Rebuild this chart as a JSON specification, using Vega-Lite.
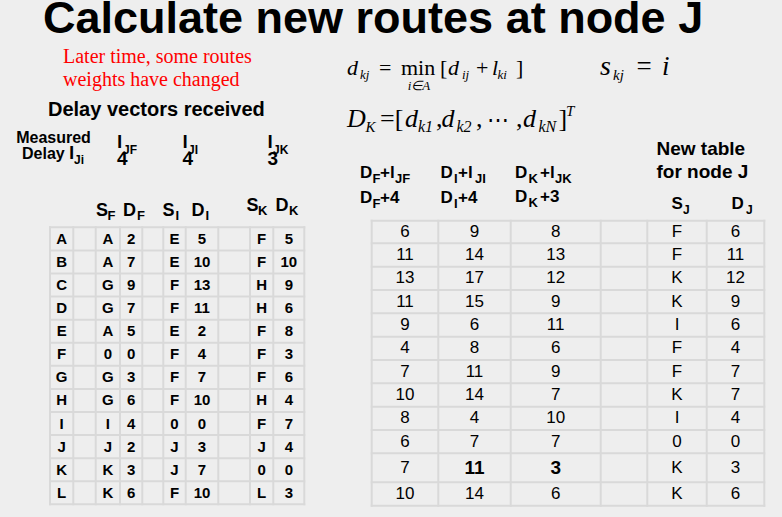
{
  "$schema": "https://vega.github.io/schema/vega-lite/v6.json",
  "width": 782,
  "height": 517,
  "autosize": {"type": "none"},
  "padding": 0,
  "background": "#eeeeee",
  "config": {
    "view": {"stroke": null},
    "axis": {"disable": true},
    "text": {"font": "Liberation Sans", "fill": "#000000", "align": "left", "baseline": "alphabetic"},
    "rule": {"stroke": "#d9d9d9", "strokeWidth": 2, "strokeCap": "square"}
  },
  "datasets": {
    "routes": [
      {"dest": "A", "SF": "A", "DF": 2, "SI": "E", "DI": 5, "SK": "F", "DK": 5, "viaF": 6, "viaI": 9, "viaK": 8, "SJ": "F", "DJ": 6},
      {"dest": "B", "SF": "A", "DF": 7, "SI": "E", "DI": 10, "SK": "F", "DK": 10, "viaF": 11, "viaI": 14, "viaK": 13, "SJ": "F", "DJ": 11},
      {"dest": "C", "SF": "G", "DF": 9, "SI": "F", "DI": 13, "SK": "H", "DK": 9, "viaF": 13, "viaI": 17, "viaK": 12, "SJ": "K", "DJ": 12},
      {"dest": "D", "SF": "G", "DF": 7, "SI": "F", "DI": 11, "SK": "H", "DK": 6, "viaF": 11, "viaI": 15, "viaK": 9, "SJ": "K", "DJ": 9},
      {"dest": "E", "SF": "A", "DF": 5, "SI": "E", "DI": 2, "SK": "F", "DK": 8, "viaF": 9, "viaI": 6, "viaK": 11, "SJ": "I", "DJ": 6},
      {"dest": "F", "SF": "0", "DF": 0, "SI": "F", "DI": 4, "SK": "F", "DK": 3, "viaF": 4, "viaI": 8, "viaK": 6, "SJ": "F", "DJ": 4},
      {"dest": "G", "SF": "G", "DF": 3, "SI": "F", "DI": 7, "SK": "F", "DK": 6, "viaF": 7, "viaI": 11, "viaK": 9, "SJ": "F", "DJ": 7},
      {"dest": "H", "SF": "G", "DF": 6, "SI": "F", "DI": 10, "SK": "H", "DK": 4, "viaF": 10, "viaI": 14, "viaK": 7, "SJ": "K", "DJ": 7},
      {"dest": "I", "SF": "I", "DF": 4, "SI": "0", "DI": 0, "SK": "F", "DK": 7, "viaF": 8, "viaI": 4, "viaK": 10, "SJ": "I", "DJ": 4},
      {"dest": "J", "SF": "J", "DF": 2, "SI": "J", "DI": 3, "SK": "J", "DK": 4, "viaF": 6, "viaI": 7, "viaK": 7, "SJ": "0", "DJ": 0},
      {"dest": "K", "SF": "K", "DF": 3, "SI": "J", "DI": 7, "SK": "0", "DK": 0, "viaF": 7, "viaI": 11, "viaK": 3, "SJ": "K", "DJ": 3},
      {"dest": "L", "SF": "K", "DF": 6, "SI": "F", "DI": 10, "SK": "L", "DK": 3, "viaF": 10, "viaI": 14, "viaK": 6, "SJ": "K", "DJ": 6}
    ]
  },
  "layer": [
    {
      "layer": [
        {
          "data": {"values": [{"e": -0.5}, {"e": 0.5}, {"e": 1.5}, {"e": 2.5}, {"e": 3.5}, {"e": 4.5}, {"e": 5.5}, {"e": 6.5}, {"e": 7.5}, {"e": 8.5}, {"e": 9.5}]},
          "mark": "rule",
          "encoding": {
            "x": {"field": "e", "type": "quantitative", "scale": {"domain": [-0.5, 0.5, 1.5, 2.5, 3.5, 4.5, 5.5, 6.5, 7.5, 8.5, 9.5], "range": [50, 73.3, 95.7, 120, 142.3, 163.3, 185.7, 218.3, 250, 273.3, 304.3], "zero": false, "nice": false}},
            "y": {"datum": 0.5, "scale": {"domain": [0.5, 12.5], "range": [227.3, 504.3], "zero": false, "nice": false}},
            "y2": {"datum": 12.5}
          }
        },
        {
          "data": {"values": [{"h": 0.5}, {"h": 1.5}, {"h": 2.5}, {"h": 3.5}, {"h": 4.5}, {"h": 5.5}, {"h": 6.5}, {"h": 7.5}, {"h": 8.5}, {"h": 9.5}, {"h": 10.5}, {"h": 11.5}, {"h": 12.5}]},
          "mark": "rule",
          "encoding": {
            "y": {"field": "h", "type": "quantitative", "scale": {"domain": [0.5, 12.5], "range": [227.3, 504.3], "zero": false, "nice": false}},
            "x": {"datum": -0.5, "scale": {"domain": [-0.5, 0.5, 1.5, 2.5, 3.5, 4.5, 5.5, 6.5, 7.5, 8.5, 9.5], "range": [50, 73.3, 95.7, 120, 142.3, 163.3, 185.7, 218.3, 250, 273.3, 304.3], "zero": false, "nice": false}},
            "x2": {"datum": 9.5}
          }
        },
        {
          "data": {"name": "routes"},
          "transform": [{"window": [{"op": "row_number", "as": "n"}]}],
          "encoding": {
            "y": {"field": "n", "type": "quantitative", "scale": {"domain": [0.5, 12.5], "range": [227.3, 504.3], "zero": false, "nice": false}}
          },
          "layer": [
            {"mark": {"type": "text", "fontWeight": "bold", "fontSize": 15, "align": "center", "baseline": "middle"},
             "encoding": {"x": {"datum": 0, "scale": {"domain": [-0.5, 0.5, 1.5, 2.5, 3.5, 4.5, 5.5, 6.5, 7.5, 8.5, 9.5], "range": [50, 73.3, 95.7, 120, 142.3, 163.3, 185.7, 218.3, 250, 273.3, 304.3], "zero": false, "nice": false}}, "text": {"field": "dest", "type": "nominal"}}},
            {"mark": {"type": "text", "fontWeight": "bold", "fontSize": 15, "align": "center", "baseline": "middle"},
             "encoding": {"x": {"datum": 2, "scale": {"domain": [-0.5, 0.5, 1.5, 2.5, 3.5, 4.5, 5.5, 6.5, 7.5, 8.5, 9.5], "range": [50, 73.3, 95.7, 120, 142.3, 163.3, 185.7, 218.3, 250, 273.3, 304.3], "zero": false, "nice": false}}, "text": {"field": "SF", "type": "nominal"}}},
            {"mark": {"type": "text", "fontWeight": "bold", "fontSize": 15, "align": "center", "baseline": "middle"},
             "encoding": {"x": {"datum": 3, "scale": {"domain": [-0.5, 0.5, 1.5, 2.5, 3.5, 4.5, 5.5, 6.5, 7.5, 8.5, 9.5], "range": [50, 73.3, 95.7, 120, 142.3, 163.3, 185.7, 218.3, 250, 273.3, 304.3], "zero": false, "nice": false}}, "text": {"field": "DF", "type": "nominal"}}},
            {"mark": {"type": "text", "fontWeight": "bold", "fontSize": 15, "align": "center", "baseline": "middle"},
             "encoding": {"x": {"datum": 5, "scale": {"domain": [-0.5, 0.5, 1.5, 2.5, 3.5, 4.5, 5.5, 6.5, 7.5, 8.5, 9.5], "range": [50, 73.3, 95.7, 120, 142.3, 163.3, 185.7, 218.3, 250, 273.3, 304.3], "zero": false, "nice": false}}, "text": {"field": "SI", "type": "nominal"}}},
            {"mark": {"type": "text", "fontWeight": "bold", "fontSize": 15, "align": "center", "baseline": "middle"},
             "encoding": {"x": {"datum": 6, "scale": {"domain": [-0.5, 0.5, 1.5, 2.5, 3.5, 4.5, 5.5, 6.5, 7.5, 8.5, 9.5], "range": [50, 73.3, 95.7, 120, 142.3, 163.3, 185.7, 218.3, 250, 273.3, 304.3], "zero": false, "nice": false}}, "text": {"field": "DI", "type": "nominal"}}},
            {"mark": {"type": "text", "fontWeight": "bold", "fontSize": 15, "align": "center", "baseline": "middle"},
             "encoding": {"x": {"datum": 8, "scale": {"domain": [-0.5, 0.5, 1.5, 2.5, 3.5, 4.5, 5.5, 6.5, 7.5, 8.5, 9.5], "range": [50, 73.3, 95.7, 120, 142.3, 163.3, 185.7, 218.3, 250, 273.3, 304.3], "zero": false, "nice": false}}, "text": {"field": "SK", "type": "nominal"}}},
            {"mark": {"type": "text", "fontWeight": "bold", "fontSize": 15, "align": "center", "baseline": "middle"},
             "encoding": {"x": {"datum": 9, "scale": {"domain": [-0.5, 0.5, 1.5, 2.5, 3.5, 4.5, 5.5, 6.5, 7.5, 8.5, 9.5], "range": [50, 73.3, 95.7, 120, 142.3, 163.3, 185.7, 218.3, 250, 273.3, 304.3], "zero": false, "nice": false}}, "text": {"field": "DK", "type": "nominal"}}}
          ]
        }
      ]
    },
    {
      "layer": [
        {
          "data": {"values": [{"e": -0.5}, {"e": 0.5}, {"e": 1.5}, {"e": 2.5}, {"e": 3.5}, {"e": 4.5}, {"e": 5.5}]},
          "mark": "rule",
          "encoding": {
            "x": {"field": "e", "type": "quantitative", "scale": {"domain": [-0.5, 0.5, 1.5, 2.5, 3.5, 4.5, 5.5], "range": [371.7, 438.3, 510.7, 600.7, 647.3, 706.7, 764.3], "zero": false, "nice": false}},
            "y": {"datum": 0.5, "scale": {"domain": [0.5, 1.5, 2.5, 3.5, 4.5, 5.5, 6.5, 7.5, 8.5, 9.5, 10.5, 11.5, 12.5], "range": [220.7, 243.3, 266.7, 290, 313.3, 336.7, 360, 383.3, 406.7, 430, 453.3, 482.3, 505.7], "zero": false, "nice": false}},
            "y2": {"datum": 12.5}
          }
        },
        {
          "data": {"values": [{"h": 0.5}, {"h": 1.5}, {"h": 2.5}, {"h": 3.5}, {"h": 4.5}, {"h": 5.5}, {"h": 6.5}, {"h": 7.5}, {"h": 8.5}, {"h": 9.5}, {"h": 10.5}, {"h": 11.5}, {"h": 12.5}]},
          "mark": "rule",
          "encoding": {
            "y": {"field": "h", "type": "quantitative", "scale": {"domain": [0.5, 1.5, 2.5, 3.5, 4.5, 5.5, 6.5, 7.5, 8.5, 9.5, 10.5, 11.5, 12.5], "range": [220.7, 243.3, 266.7, 290, 313.3, 336.7, 360, 383.3, 406.7, 430, 453.3, 482.3, 505.7], "zero": false, "nice": false}},
            "x": {"datum": -0.5, "scale": {"domain": [-0.5, 0.5, 1.5, 2.5, 3.5, 4.5, 5.5], "range": [371.7, 438.3, 510.7, 600.7, 647.3, 706.7, 764.3], "zero": false, "nice": false}},
            "x2": {"datum": 5.5}
          }
        },
        {
          "data": {"name": "routes"},
          "transform": [{"window": [{"op": "row_number", "as": "n"}]}],
          "encoding": {
            "y": {"field": "n", "type": "quantitative", "scale": {"domain": [0.5, 1.5, 2.5, 3.5, 4.5, 5.5, 6.5, 7.5, 8.5, 9.5, 10.5, 11.5, 12.5], "range": [220.7, 243.3, 266.7, 290, 313.3, 336.7, 360, 383.3, 406.7, 430, 453.3, 482.3, 505.7], "zero": false, "nice": false}}
          },
          "layer": [
            {"mark": {"type": "text", "fontSize": 17, "align": "center", "baseline": "middle"},
             "encoding": {"x": {"datum": 0, "scale": {"domain": [-0.5, 0.5, 1.5, 2.5, 3.5, 4.5, 5.5], "range": [371.7, 438.3, 510.7, 600.7, 647.3, 706.7, 764.3], "zero": false, "nice": false}}, "text": {"field": "viaF", "type": "nominal"}}},
            {"transform": [{"filter": "datum.dest !== 'K'"}],
             "mark": {"type": "text", "fontSize": 17, "align": "center", "baseline": "middle"},
             "encoding": {"x": {"datum": 1, "scale": {"domain": [-0.5, 0.5, 1.5, 2.5, 3.5, 4.5, 5.5], "range": [371.7, 438.3, 510.7, 600.7, 647.3, 706.7, 764.3], "zero": false, "nice": false}}, "text": {"field": "viaI", "type": "nominal"}}},
            {"transform": [{"filter": "datum.dest === 'K'"}],
             "mark": {"type": "text", "fontSize": 19, "fontWeight": "bold", "align": "center", "baseline": "middle"},
             "encoding": {"x": {"datum": 1, "scale": {"domain": [-0.5, 0.5, 1.5, 2.5, 3.5, 4.5, 5.5], "range": [371.7, 438.3, 510.7, 600.7, 647.3, 706.7, 764.3], "zero": false, "nice": false}}, "text": {"field": "viaI", "type": "nominal"}}},
            {"transform": [{"filter": "datum.dest !== 'K'"}],
             "mark": {"type": "text", "fontSize": 17, "align": "center", "baseline": "middle"},
             "encoding": {"x": {"datum": 2, "scale": {"domain": [-0.5, 0.5, 1.5, 2.5, 3.5, 4.5, 5.5], "range": [371.7, 438.3, 510.7, 600.7, 647.3, 706.7, 764.3], "zero": false, "nice": false}}, "text": {"field": "viaK", "type": "nominal"}}},
            {"transform": [{"filter": "datum.dest === 'K'"}],
             "mark": {"type": "text", "fontSize": 19, "fontWeight": "bold", "align": "center", "baseline": "middle"},
             "encoding": {"x": {"datum": 2, "scale": {"domain": [-0.5, 0.5, 1.5, 2.5, 3.5, 4.5, 5.5], "range": [371.7, 438.3, 510.7, 600.7, 647.3, 706.7, 764.3], "zero": false, "nice": false}}, "text": {"field": "viaK", "type": "nominal"}}},
            {"mark": {"type": "text", "fontSize": 17, "align": "center", "baseline": "middle"},
             "encoding": {"x": {"datum": 4, "scale": {"domain": [-0.5, 0.5, 1.5, 2.5, 3.5, 4.5, 5.5], "range": [371.7, 438.3, 510.7, 600.7, 647.3, 706.7, 764.3], "zero": false, "nice": false}}, "text": {"field": "SJ", "type": "nominal"}}},
            {"mark": {"type": "text", "fontSize": 17, "align": "center", "baseline": "middle"},
             "encoding": {"x": {"datum": 5, "scale": {"domain": [-0.5, 0.5, 1.5, 2.5, 3.5, 4.5, 5.5], "range": [371.7, 438.3, 510.7, 600.7, 647.3, 706.7, 764.3], "zero": false, "nice": false}}, "text": {"field": "DJ", "type": "nominal"}}}
          ]
        }
      ]
    },
    {
      "data": {"values": [{}]},
      "layer": [
        {"mark": {"type": "text", "text": "Calculate new routes at node J", "fontSize": 45, "fontWeight": "bold"}, "encoding": {"x": {"datum": 4.3, "scale": {"domain": [0, 78.2], "range": [0, 782], "zero": false, "nice": false}}, "y": {"datum": 3.25, "scale": {"domain": [0, 51.7], "range": [0, 517], "zero": false, "nice": false}}}},
        {"mark": {"type": "text", "text": ["Later time, some routes", "weights have changed"], "font": "Liberation Serif", "fontSize": 20, "lineHeight": 23, "fill": "#ff0000"}, "encoding": {"x": {"datum": 6.3, "scale": {"domain": [0, 78.2], "range": [0, 782], "zero": false, "nice": false}}, "y": {"datum": 6.27, "scale": {"domain": [0, 51.7], "range": [0, 517], "zero": false, "nice": false}}}},
        {"mark": {"type": "text", "text": "Delay vectors received", "fontSize": 20, "fontWeight": "bold"}, "encoding": {"x": {"datum": 4.8, "scale": {"domain": [0, 78.2], "range": [0, 782], "zero": false, "nice": false}}, "y": {"datum": 11.6, "scale": {"domain": [0, 51.7], "range": [0, 517], "zero": false, "nice": false}}}},
        {"mark": {"type": "text", "text": "Measured", "fontSize": 16, "fontWeight": "bold", "align": "center"}, "encoding": {"x": {"datum": 5.35, "scale": {"domain": [0, 78.2], "range": [0, 782], "zero": false, "nice": false}}, "y": {"datum": 14.33, "scale": {"domain": [0, 51.7], "range": [0, 517], "zero": false, "nice": false}}}},
        {"mark": {"type": "text", "text": "Delay", "fontSize": 16, "fontWeight": "bold"}, "encoding": {"x": {"datum": 2.2, "scale": {"domain": [0, 78.2], "range": [0, 782], "zero": false, "nice": false}}, "y": {"datum": 15.93, "scale": {"domain": [0, 51.7], "range": [0, 517], "zero": false, "nice": false}}}},
        {"mark": {"type": "text", "text": "l", "fontSize": 19, "fontWeight": "bold"}, "encoding": {"x": {"datum": 6.9, "scale": {"domain": [0, 78.2], "range": [0, 782], "zero": false, "nice": false}}, "y": {"datum": 15.93, "scale": {"domain": [0, 51.7], "range": [0, 517], "zero": false, "nice": false}}}},
        {"mark": {"type": "text", "text": "Ji", "fontSize": 12, "fontWeight": "bold"}, "encoding": {"x": {"datum": 7.4, "scale": {"domain": [0, 78.2], "range": [0, 782], "zero": false, "nice": false}}, "y": {"datum": 16.4, "scale": {"domain": [0, 51.7], "range": [0, 517], "zero": false, "nice": false}}}},
        {"mark": {"type": "text", "text": ["l", "4"], "fontSize": 19, "fontWeight": "bold", "lineHeight": 17}, "encoding": {"x": {"datum": 11.7, "scale": {"domain": [0, 78.2], "range": [0, 782], "zero": false, "nice": false}}, "y": {"datum": 14.8, "scale": {"domain": [0, 51.7], "range": [0, 517], "zero": false, "nice": false}}}},
        {"mark": {"type": "text", "text": ["l", "4"], "fontSize": 19, "fontWeight": "bold", "lineHeight": 17}, "encoding": {"x": {"datum": 18.25, "scale": {"domain": [0, 78.2], "range": [0, 782], "zero": false, "nice": false}}, "y": {"datum": 14.8, "scale": {"domain": [0, 51.7], "range": [0, 517], "zero": false, "nice": false}}}},
        {"mark": {"type": "text", "text": ["l", "3"], "fontSize": 19, "fontWeight": "bold", "lineHeight": 17}, "encoding": {"x": {"datum": 26.75, "scale": {"domain": [0, 78.2], "range": [0, 782], "zero": false, "nice": false}}, "y": {"datum": 14.8, "scale": {"domain": [0, 51.7], "range": [0, 517], "zero": false, "nice": false}}}},
        {"mark": {"type": "text", "text": "JF", "fontSize": 12, "fontWeight": "bold"}, "encoding": {"x": {"datum": 12.3, "scale": {"domain": [0, 78.2], "range": [0, 782], "zero": false, "nice": false}}, "y": {"datum": 15.4, "scale": {"domain": [0, 51.7], "range": [0, 517], "zero": false, "nice": false}}}},
        {"mark": {"type": "text", "text": "JI", "fontSize": 12, "fontWeight": "bold"}, "encoding": {"x": {"datum": 18.8, "scale": {"domain": [0, 78.2], "range": [0, 782], "zero": false, "nice": false}}, "y": {"datum": 15.4, "scale": {"domain": [0, 51.7], "range": [0, 517], "zero": false, "nice": false}}}},
        {"mark": {"type": "text", "text": "JK", "fontSize": 12, "fontWeight": "bold"}, "encoding": {"x": {"datum": 27.3, "scale": {"domain": [0, 78.2], "range": [0, 782], "zero": false, "nice": false}}, "y": {"datum": 15.4, "scale": {"domain": [0, 51.7], "range": [0, 517], "zero": false, "nice": false}}}},
        {"mark": {"type": "text", "text": "S", "fontSize": 18, "fontWeight": "bold"}, "encoding": {"x": {"datum": 9.6, "scale": {"domain": [0, 78.2], "range": [0, 782], "zero": false, "nice": false}}, "y": {"datum": 21.6, "scale": {"domain": [0, 51.7], "range": [0, 517], "zero": false, "nice": false}}}},
        {"mark": {"type": "text", "text": "F", "fontSize": 13, "fontWeight": "bold"}, "encoding": {"x": {"datum": 10.75, "scale": {"domain": [0, 78.2], "range": [0, 782], "zero": false, "nice": false}}, "y": {"datum": 22.0, "scale": {"domain": [0, 51.7], "range": [0, 517], "zero": false, "nice": false}}}},
        {"mark": {"type": "text", "text": "D", "fontSize": 18, "fontWeight": "bold"}, "encoding": {"x": {"datum": 12.3, "scale": {"domain": [0, 78.2], "range": [0, 782], "zero": false, "nice": false}}, "y": {"datum": 21.6, "scale": {"domain": [0, 51.7], "range": [0, 517], "zero": false, "nice": false}}}},
        {"mark": {"type": "text", "text": "F", "fontSize": 13, "fontWeight": "bold"}, "encoding": {"x": {"datum": 13.7, "scale": {"domain": [0, 78.2], "range": [0, 782], "zero": false, "nice": false}}, "y": {"datum": 22.0, "scale": {"domain": [0, 51.7], "range": [0, 517], "zero": false, "nice": false}}}},
        {"mark": {"type": "text", "text": "S", "fontSize": 18, "fontWeight": "bold"}, "encoding": {"x": {"datum": 16.25, "scale": {"domain": [0, 78.2], "range": [0, 782], "zero": false, "nice": false}}, "y": {"datum": 21.6, "scale": {"domain": [0, 51.7], "range": [0, 517], "zero": false, "nice": false}}}},
        {"mark": {"type": "text", "text": "I", "fontSize": 13, "fontWeight": "bold"}, "encoding": {"x": {"datum": 17.55, "scale": {"domain": [0, 78.2], "range": [0, 782], "zero": false, "nice": false}}, "y": {"datum": 22.0, "scale": {"domain": [0, 51.7], "range": [0, 517], "zero": false, "nice": false}}}},
        {"mark": {"type": "text", "text": "D", "fontSize": 18, "fontWeight": "bold"}, "encoding": {"x": {"datum": 19.15, "scale": {"domain": [0, 78.2], "range": [0, 782], "zero": false, "nice": false}}, "y": {"datum": 21.6, "scale": {"domain": [0, 51.7], "range": [0, 517], "zero": false, "nice": false}}}},
        {"mark": {"type": "text", "text": "I", "fontSize": 13, "fontWeight": "bold"}, "encoding": {"x": {"datum": 20.55, "scale": {"domain": [0, 78.2], "range": [0, 782], "zero": false, "nice": false}}, "y": {"datum": 22.0, "scale": {"domain": [0, 51.7], "range": [0, 517], "zero": false, "nice": false}}}},
        {"mark": {"type": "text", "text": "S", "fontSize": 18, "fontWeight": "bold"}, "encoding": {"x": {"datum": 24.65, "scale": {"domain": [0, 78.2], "range": [0, 782], "zero": false, "nice": false}}, "y": {"datum": 21.1, "scale": {"domain": [0, 51.7], "range": [0, 517], "zero": false, "nice": false}}}},
        {"mark": {"type": "text", "text": "K", "fontSize": 13, "fontWeight": "bold"}, "encoding": {"x": {"datum": 25.8, "scale": {"domain": [0, 78.2], "range": [0, 782], "zero": false, "nice": false}}, "y": {"datum": 21.5, "scale": {"domain": [0, 51.7], "range": [0, 517], "zero": false, "nice": false}}}},
        {"mark": {"type": "text", "text": "D", "fontSize": 18, "fontWeight": "bold"}, "encoding": {"x": {"datum": 27.55, "scale": {"domain": [0, 78.2], "range": [0, 782], "zero": false, "nice": false}}, "y": {"datum": 21.1, "scale": {"domain": [0, 51.7], "range": [0, 517], "zero": false, "nice": false}}}},
        {"mark": {"type": "text", "text": "K", "fontSize": 13, "fontWeight": "bold"}, "encoding": {"x": {"datum": 28.9, "scale": {"domain": [0, 78.2], "range": [0, 782], "zero": false, "nice": false}}, "y": {"datum": 21.5, "scale": {"domain": [0, 51.7], "range": [0, 517], "zero": false, "nice": false}}}},
        {"mark": {"type": "text", "text": ["D", "D"], "fontSize": 17, "fontWeight": "bold", "lineHeight": 24.5}, "encoding": {"x": {"datum": 36.0, "scale": {"domain": [0, 78.2], "range": [0, 782], "zero": false, "nice": false}}, "y": {"datum": 17.8, "scale": {"domain": [0, 51.7], "range": [0, 517], "zero": false, "nice": false}}}},
        {"mark": {"type": "text", "text": ["F", "F"], "fontSize": 13, "fontWeight": "bold", "lineHeight": 24.5}, "encoding": {"x": {"datum": 37.25, "scale": {"domain": [0, 78.2], "range": [0, 782], "zero": false, "nice": false}}, "y": {"datum": 18.3, "scale": {"domain": [0, 51.7], "range": [0, 517], "zero": false, "nice": false}}}},
        {"mark": {"type": "text", "text": ["+l", "+4"], "fontSize": 17, "fontWeight": "bold", "lineHeight": 24.5}, "encoding": {"x": {"datum": 38.0, "scale": {"domain": [0, 78.2], "range": [0, 782], "zero": false, "nice": false}}, "y": {"datum": 17.8, "scale": {"domain": [0, 51.7], "range": [0, 517], "zero": false, "nice": false}}}},
        {"mark": {"type": "text", "text": "JF", "fontSize": 13, "fontWeight": "bold"}, "encoding": {"x": {"datum": 39.5, "scale": {"domain": [0, 78.2], "range": [0, 782], "zero": false, "nice": false}}, "y": {"datum": 18.3, "scale": {"domain": [0, 51.7], "range": [0, 517], "zero": false, "nice": false}}}},
        {"mark": {"type": "text", "text": ["D", "D"], "fontSize": 17, "fontWeight": "bold", "lineHeight": 24.5}, "encoding": {"x": {"datum": 44.05, "scale": {"domain": [0, 78.2], "range": [0, 782], "zero": false, "nice": false}}, "y": {"datum": 17.8, "scale": {"domain": [0, 51.7], "range": [0, 517], "zero": false, "nice": false}}}},
        {"mark": {"type": "text", "text": ["I", "I"], "fontSize": 13, "fontWeight": "bold", "lineHeight": 24.5}, "encoding": {"x": {"datum": 45.4, "scale": {"domain": [0, 78.2], "range": [0, 782], "zero": false, "nice": false}}, "y": {"datum": 18.3, "scale": {"domain": [0, 51.7], "range": [0, 517], "zero": false, "nice": false}}}},
        {"mark": {"type": "text", "text": ["+l", "+4"], "fontSize": 17, "fontWeight": "bold", "lineHeight": 24.5}, "encoding": {"x": {"datum": 45.8, "scale": {"domain": [0, 78.2], "range": [0, 782], "zero": false, "nice": false}}, "y": {"datum": 17.8, "scale": {"domain": [0, 51.7], "range": [0, 517], "zero": false, "nice": false}}}},
        {"mark": {"type": "text", "text": "JI", "fontSize": 13, "fontWeight": "bold"}, "encoding": {"x": {"datum": 47.5, "scale": {"domain": [0, 78.2], "range": [0, 782], "zero": false, "nice": false}}, "y": {"datum": 18.3, "scale": {"domain": [0, 51.7], "range": [0, 517], "zero": false, "nice": false}}}},
        {"mark": {"type": "text", "text": ["D", "D"], "fontSize": 17, "fontWeight": "bold", "lineHeight": 24.5}, "encoding": {"x": {"datum": 51.5, "scale": {"domain": [0, 78.2], "range": [0, 782], "zero": false, "nice": false}}, "y": {"datum": 17.75, "scale": {"domain": [0, 51.7], "range": [0, 517], "zero": false, "nice": false}}}},
        {"mark": {"type": "text", "text": ["K", "K"], "fontSize": 13, "fontWeight": "bold", "lineHeight": 24.5}, "encoding": {"x": {"datum": 52.85, "scale": {"domain": [0, 78.2], "range": [0, 782], "zero": false, "nice": false}}, "y": {"datum": 18.25, "scale": {"domain": [0, 51.7], "range": [0, 517], "zero": false, "nice": false}}}},
        {"mark": {"type": "text", "text": ["+l", "+3"], "fontSize": 17, "fontWeight": "bold", "lineHeight": 24.5}, "encoding": {"x": {"datum": 54.0, "scale": {"domain": [0, 78.2], "range": [0, 782], "zero": false, "nice": false}}, "y": {"datum": 17.75, "scale": {"domain": [0, 51.7], "range": [0, 517], "zero": false, "nice": false}}}},
        {"mark": {"type": "text", "text": "JK", "fontSize": 13, "fontWeight": "bold"}, "encoding": {"x": {"datum": 55.5, "scale": {"domain": [0, 78.2], "range": [0, 782], "zero": false, "nice": false}}, "y": {"datum": 18.25, "scale": {"domain": [0, 51.7], "range": [0, 517], "zero": false, "nice": false}}}},
        {"mark": {"type": "text", "text": ["New table", "for node J"], "fontSize": 19, "fontWeight": "bold", "lineHeight": 23.3}, "encoding": {"x": {"datum": 65.65, "scale": {"domain": [0, 78.2], "range": [0, 782], "zero": false, "nice": false}}, "y": {"datum": 15.5, "scale": {"domain": [0, 51.7], "range": [0, 517], "zero": false, "nice": false}}}},
        {"mark": {"type": "text", "text": "S", "fontSize": 17, "fontWeight": "bold"}, "encoding": {"x": {"datum": 67.15, "scale": {"domain": [0, 78.2], "range": [0, 782], "zero": false, "nice": false}}, "y": {"datum": 20.93, "scale": {"domain": [0, 51.7], "range": [0, 517], "zero": false, "nice": false}}}},
        {"mark": {"type": "text", "text": "J", "fontSize": 12, "fontWeight": "bold"}, "encoding": {"x": {"datum": 68.3, "scale": {"domain": [0, 78.2], "range": [0, 782], "zero": false, "nice": false}}, "y": {"datum": 21.35, "scale": {"domain": [0, 51.7], "range": [0, 517], "zero": false, "nice": false}}}},
        {"mark": {"type": "text", "text": "D", "fontSize": 17, "fontWeight": "bold"}, "encoding": {"x": {"datum": 73.15, "scale": {"domain": [0, 78.2], "range": [0, 782], "zero": false, "nice": false}}, "y": {"datum": 20.93, "scale": {"domain": [0, 51.7], "range": [0, 517], "zero": false, "nice": false}}}},
        {"mark": {"type": "text", "text": "J", "fontSize": 12, "fontWeight": "bold"}, "encoding": {"x": {"datum": 74.6, "scale": {"domain": [0, 78.2], "range": [0, 782], "zero": false, "nice": false}}, "y": {"datum": 21.35, "scale": {"domain": [0, 51.7], "range": [0, 517], "zero": false, "nice": false}}}},
        {"mark": {"type": "text", "text": "d", "font": "Liberation Serif", "fontStyle": "italic", "fontSize": 22}, "encoding": {"x": {"datum": 34.7, "scale": {"domain": [0, 78.2], "range": [0, 782], "zero": false, "nice": false}}, "y": {"datum": 7.5, "scale": {"domain": [0, 51.7], "range": [0, 517], "zero": false, "nice": false}}}},
        {"mark": {"type": "text", "text": "kj", "font": "Liberation Serif", "fontStyle": "italic", "fontSize": 13}, "encoding": {"x": {"datum": 36.0, "scale": {"domain": [0, 78.2], "range": [0, 782], "zero": false, "nice": false}}, "y": {"datum": 7.9, "scale": {"domain": [0, 51.7], "range": [0, 517], "zero": false, "nice": false}}}},
        {"mark": {"type": "text", "text": "=", "font": "Liberation Serif", "fontSize": 22}, "encoding": {"x": {"datum": 37.9, "scale": {"domain": [0, 78.2], "range": [0, 782], "zero": false, "nice": false}}, "y": {"datum": 7.5, "scale": {"domain": [0, 51.7], "range": [0, 517], "zero": false, "nice": false}}}},
        {"mark": {"type": "text", "text": "min", "font": "Liberation Serif", "fontSize": 22}, "encoding": {"x": {"datum": 40.1, "scale": {"domain": [0, 78.2], "range": [0, 782], "zero": false, "nice": false}}, "y": {"datum": 7.5, "scale": {"domain": [0, 51.7], "range": [0, 517], "zero": false, "nice": false}}}},
        {"mark": {"type": "text", "text": "i∈A", "font": "Liberation Serif", "fontStyle": "italic", "fontSize": 13, "align": "center"}, "encoding": {"x": {"datum": 41.9, "scale": {"domain": [0, 78.2], "range": [0, 782], "zero": false, "nice": false}}, "y": {"datum": 8.95, "scale": {"domain": [0, 51.7], "range": [0, 517], "zero": false, "nice": false}}}},
        {"mark": {"type": "text", "text": "[", "font": "Liberation Serif", "fontSize": 22}, "encoding": {"x": {"datum": 44.0, "scale": {"domain": [0, 78.2], "range": [0, 782], "zero": false, "nice": false}}, "y": {"datum": 7.5, "scale": {"domain": [0, 51.7], "range": [0, 517], "zero": false, "nice": false}}}},
        {"mark": {"type": "text", "text": "d", "font": "Liberation Serif", "fontStyle": "italic", "fontSize": 22}, "encoding": {"x": {"datum": 44.8, "scale": {"domain": [0, 78.2], "range": [0, 782], "zero": false, "nice": false}}, "y": {"datum": 7.5, "scale": {"domain": [0, 51.7], "range": [0, 517], "zero": false, "nice": false}}}},
        {"mark": {"type": "text", "text": "ij", "font": "Liberation Serif", "fontStyle": "italic", "fontSize": 13}, "encoding": {"x": {"datum": 46.2, "scale": {"domain": [0, 78.2], "range": [0, 782], "zero": false, "nice": false}}, "y": {"datum": 7.9, "scale": {"domain": [0, 51.7], "range": [0, 517], "zero": false, "nice": false}}}},
        {"mark": {"type": "text", "text": "+", "font": "Liberation Serif", "fontSize": 22}, "encoding": {"x": {"datum": 47.6, "scale": {"domain": [0, 78.2], "range": [0, 782], "zero": false, "nice": false}}, "y": {"datum": 7.5, "scale": {"domain": [0, 51.7], "range": [0, 517], "zero": false, "nice": false}}}},
        {"mark": {"type": "text", "text": "l", "font": "Liberation Serif", "fontStyle": "italic", "fontSize": 22}, "encoding": {"x": {"datum": 49.2, "scale": {"domain": [0, 78.2], "range": [0, 782], "zero": false, "nice": false}}, "y": {"datum": 7.5, "scale": {"domain": [0, 51.7], "range": [0, 517], "zero": false, "nice": false}}}},
        {"mark": {"type": "text", "text": "ki", "font": "Liberation Serif", "fontStyle": "italic", "fontSize": 13}, "encoding": {"x": {"datum": 49.75, "scale": {"domain": [0, 78.2], "range": [0, 782], "zero": false, "nice": false}}, "y": {"datum": 7.9, "scale": {"domain": [0, 51.7], "range": [0, 517], "zero": false, "nice": false}}}},
        {"mark": {"type": "text", "text": "]", "font": "Liberation Serif", "fontSize": 22}, "encoding": {"x": {"datum": 51.6, "scale": {"domain": [0, 78.2], "range": [0, 782], "zero": false, "nice": false}}, "y": {"datum": 7.5, "scale": {"domain": [0, 51.7], "range": [0, 517], "zero": false, "nice": false}}}},
        {"mark": {"type": "text", "text": "s", "font": "Liberation Serif", "fontStyle": "italic", "fontSize": 28}, "encoding": {"x": {"datum": 60.0, "scale": {"domain": [0, 78.2], "range": [0, 782], "zero": false, "nice": false}}, "y": {"datum": 7.5, "scale": {"domain": [0, 51.7], "range": [0, 517], "zero": false, "nice": false}}}},
        {"mark": {"type": "text", "text": "kj", "font": "Liberation Serif", "fontStyle": "italic", "fontSize": 15}, "encoding": {"x": {"datum": 61.3, "scale": {"domain": [0, 78.2], "range": [0, 782], "zero": false, "nice": false}}, "y": {"datum": 8.0, "scale": {"domain": [0, 51.7], "range": [0, 517], "zero": false, "nice": false}}}},
        {"mark": {"type": "text", "text": "=", "font": "Liberation Serif", "fontSize": 27}, "encoding": {"x": {"datum": 63.65, "scale": {"domain": [0, 78.2], "range": [0, 782], "zero": false, "nice": false}}, "y": {"datum": 7.5, "scale": {"domain": [0, 51.7], "range": [0, 517], "zero": false, "nice": false}}}},
        {"mark": {"type": "text", "text": "i", "font": "Liberation Serif", "fontStyle": "italic", "fontSize": 27}, "encoding": {"x": {"datum": 66.2, "scale": {"domain": [0, 78.2], "range": [0, 782], "zero": false, "nice": false}}, "y": {"datum": 7.5, "scale": {"domain": [0, 51.7], "range": [0, 517], "zero": false, "nice": false}}}},
        {"mark": {"type": "text", "text": "D", "font": "Liberation Serif", "fontStyle": "italic", "fontSize": 26}, "encoding": {"x": {"datum": 34.7, "scale": {"domain": [0, 78.2], "range": [0, 782], "zero": false, "nice": false}}, "y": {"datum": 12.65, "scale": {"domain": [0, 51.7], "range": [0, 517], "zero": false, "nice": false}}}},
        {"mark": {"type": "text", "text": "K", "font": "Liberation Serif", "fontStyle": "italic", "fontSize": 15}, "encoding": {"x": {"datum": 36.55, "scale": {"domain": [0, 78.2], "range": [0, 782], "zero": false, "nice": false}}, "y": {"datum": 13.15, "scale": {"domain": [0, 51.7], "range": [0, 517], "zero": false, "nice": false}}}},
        {"mark": {"type": "text", "text": "=[", "font": "Liberation Serif", "fontSize": 26}, "encoding": {"x": {"datum": 38.0, "scale": {"domain": [0, 78.2], "range": [0, 782], "zero": false, "nice": false}}, "y": {"datum": 12.65, "scale": {"domain": [0, 51.7], "range": [0, 517], "zero": false, "nice": false}}}},
        {"mark": {"type": "text", "text": "d", "font": "Liberation Serif", "fontStyle": "italic", "fontSize": 26}, "encoding": {"x": {"datum": 40.5, "scale": {"domain": [0, 78.2], "range": [0, 782], "zero": false, "nice": false}}, "y": {"datum": 12.65, "scale": {"domain": [0, 51.7], "range": [0, 517], "zero": false, "nice": false}}}},
        {"mark": {"type": "text", "text": "k1", "font": "Liberation Serif", "fontStyle": "italic", "fontSize": 16}, "encoding": {"x": {"datum": 41.8, "scale": {"domain": [0, 78.2], "range": [0, 782], "zero": false, "nice": false}}, "y": {"datum": 13.15, "scale": {"domain": [0, 51.7], "range": [0, 517], "zero": false, "nice": false}}}},
        {"mark": {"type": "text", "text": ",", "font": "Liberation Serif", "fontSize": 26}, "encoding": {"x": {"datum": 43.6, "scale": {"domain": [0, 78.2], "range": [0, 782], "zero": false, "nice": false}}, "y": {"datum": 12.65, "scale": {"domain": [0, 51.7], "range": [0, 517], "zero": false, "nice": false}}}},
        {"mark": {"type": "text", "text": "d", "font": "Liberation Serif", "fontStyle": "italic", "fontSize": 26}, "encoding": {"x": {"datum": 44.15, "scale": {"domain": [0, 78.2], "range": [0, 782], "zero": false, "nice": false}}, "y": {"datum": 12.65, "scale": {"domain": [0, 51.7], "range": [0, 517], "zero": false, "nice": false}}}},
        {"mark": {"type": "text", "text": "k2", "font": "Liberation Serif", "fontStyle": "italic", "fontSize": 16}, "encoding": {"x": {"datum": 45.65, "scale": {"domain": [0, 78.2], "range": [0, 782], "zero": false, "nice": false}}, "y": {"datum": 13.15, "scale": {"domain": [0, 51.7], "range": [0, 517], "zero": false, "nice": false}}}},
        {"mark": {"type": "text", "text": ",", "font": "Liberation Serif", "fontSize": 26}, "encoding": {"x": {"datum": 47.6, "scale": {"domain": [0, 78.2], "range": [0, 782], "zero": false, "nice": false}}, "y": {"datum": 12.65, "scale": {"domain": [0, 51.7], "range": [0, 517], "zero": false, "nice": false}}}},
        {"mark": {"type": "text", "text": "⋯", "font": "DejaVu Serif", "fontSize": 22}, "encoding": {"x": {"datum": 48.7, "scale": {"domain": [0, 78.2], "range": [0, 782], "zero": false, "nice": false}}, "y": {"datum": 12.65, "scale": {"domain": [0, 51.7], "range": [0, 517], "zero": false, "nice": false}}}},
        {"mark": {"type": "text", "text": ",", "font": "Liberation Serif", "fontSize": 26}, "encoding": {"x": {"datum": 51.6, "scale": {"domain": [0, 78.2], "range": [0, 782], "zero": false, "nice": false}}, "y": {"datum": 12.65, "scale": {"domain": [0, 51.7], "range": [0, 517], "zero": false, "nice": false}}}},
        {"mark": {"type": "text", "text": "d", "font": "Liberation Serif", "fontStyle": "italic", "fontSize": 26}, "encoding": {"x": {"datum": 52.3, "scale": {"domain": [0, 78.2], "range": [0, 782], "zero": false, "nice": false}}, "y": {"datum": 12.65, "scale": {"domain": [0, 51.7], "range": [0, 517], "zero": false, "nice": false}}}},
        {"mark": {"type": "text", "text": "kN", "font": "Liberation Serif", "fontStyle": "italic", "fontSize": 16}, "encoding": {"x": {"datum": 53.85, "scale": {"domain": [0, 78.2], "range": [0, 782], "zero": false, "nice": false}}, "y": {"datum": 13.15, "scale": {"domain": [0, 51.7], "range": [0, 517], "zero": false, "nice": false}}}},
        {"mark": {"type": "text", "text": "]", "font": "Liberation Serif", "fontSize": 26}, "encoding": {"x": {"datum": 55.85, "scale": {"domain": [0, 78.2], "range": [0, 782], "zero": false, "nice": false}}, "y": {"datum": 12.65, "scale": {"domain": [0, 51.7], "range": [0, 517], "zero": false, "nice": false}}}},
        {"mark": {"type": "text", "text": "T", "font": "Liberation Serif", "fontStyle": "italic", "fontSize": 15}, "encoding": {"x": {"datum": 56.6, "scale": {"domain": [0, 78.2], "range": [0, 782], "zero": false, "nice": false}}, "y": {"datum": 11.55, "scale": {"domain": [0, 51.7], "range": [0, 517], "zero": false, "nice": false}}}}
      ]
    }
  ],
  "resolve": {"scale": {"x": "independent", "y": "independent"}}
}
